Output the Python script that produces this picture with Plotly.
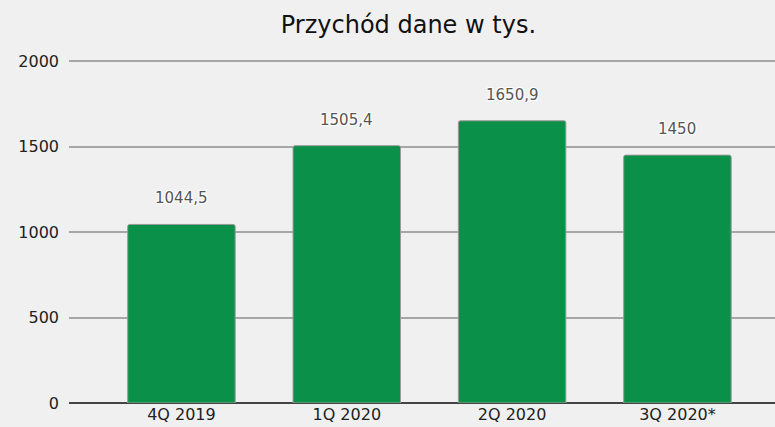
import plotly.graph_objects as go

# ── Data ──────────────────────────────────────────────────────────────────────
quarters = ["4Q 2019", "1Q 2020", "2Q 2020", "3Q 2020*"]
revenue = [1044.5, 1505.4, 1650.9, 1450]
labels = ["1044,5", "1505,4", "1650,9", "1450"]
y_ticks = [0, 500, 1000, 1500, 2000]

_FONT = "DejaVu Sans, Verdana, sans-serif"
_BG = "#F0F0F0"
_GREEN = "#0B9049"
_HALO = "1px 1px 1px #ffffff, -1px -1px 1px #ffffff, 1px -1px 1px #ffffff, -1px 1px 1px #ffffff"

fig = go.Figure()
fig.add_trace(go.Bar(
    x=quarters, y=revenue, width=0.65,
    marker=dict(color=_GREEN, line=dict(color="#9A9A9A", width=1), cornerradius=2),
    hoverinfo="skip",
))

# value labels floating above each bar
for q, v, t in zip(quarters, revenue, labels):
    fig.add_annotation(
        x=q, y=v, text=t, showarrow=False, yanchor="bottom", yshift=15,
        font=dict(family=_FONT, size=15, color="#555555", shadow=_HALO),
    )

fig.update_layout(
    width=775, height=427,
    paper_bgcolor=_BG, plot_bgcolor=_BG,
    font=dict(family=_FONT, size=16, color="#222222"),
    margin=dict(l=69, r=0, t=57, b=24),
    title=dict(text="Przychód dane w tys.", x=0.527, xanchor="center",
               y=0.943, yanchor="middle", font=dict(size=24, color="#111111")),
    showlegend=False,
    xaxis=dict(range=[-0.68, 3.59], showgrid=False, ticks="", showline=False,
               tickfont=dict(size=16)),
    yaxis=dict(range=[0, 2024], tickvals=y_ticks, gridcolor="#A6A6A6", gridwidth=2,
               zeroline=True, zerolinecolor="#444444", zerolinewidth=1.5,
               ticks="", ticklabelstandoff=9, tickfont=dict(size=16)),
)

# drop the default body margin so the figure fills the window
fig.write_html("out.html", config={"displayModeBar": False},
               post_script=f"document.body.style.margin='0';"
                           f"document.body.style.backgroundColor='{_BG}';")
